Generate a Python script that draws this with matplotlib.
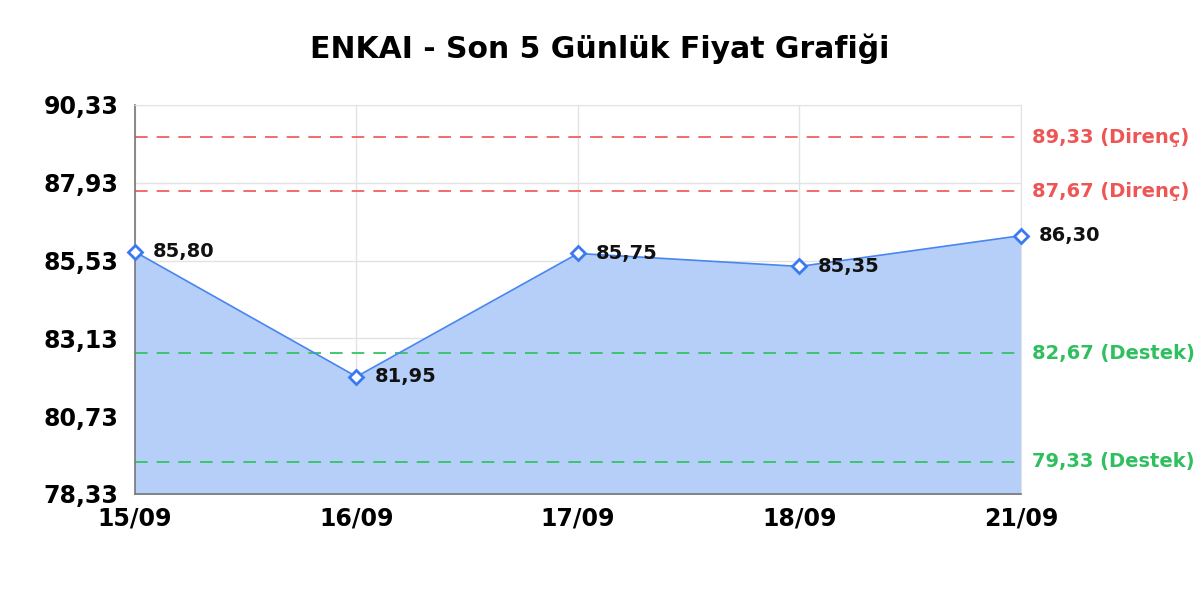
import matplotlib
matplotlib.use("Agg")
import matplotlib.pyplot as plt
import matplotlib.transforms as mtransforms

# data
dates = ['15/09', '16/09', '17/09', '18/09', '21/09']
prices = [85.80, 81.95, 85.75, 85.35, 86.30]
resistance = [89.33, 87.67]
support = [82.67, 79.33]
y_ticks = [78.33, 80.73, 83.13, 85.53, 87.93, 90.33]

def tr(v):
    return f"{v:.2f}".replace('.', ',')

plt.rcParams['font.family'] = ['DejaVu Sans']

fig = plt.figure(figsize=(12, 6), dpi=100)
ax = fig.add_axes([0.1125, 0.1767, 0.7383, 0.6483])

x = list(range(len(dates)))
ax.fill_between(x, prices, y_ticks[0], color='#b6cff8', zorder=1)
ax.plot(x, prices, color='#4a86f0', lw=1.2, zorder=3)
ax.plot(x, prices, ls='none', marker='D', ms=7, mfc='white', mec='#3a7af0', mew=2,
        zorder=4, clip_on=False)

for xi, p in zip(x, prices):
    ax.annotate(tr(p), (xi, p), xytext=(13, 0), textcoords='offset points',
                va='center', ha='left', fontsize=14, fontweight='bold', color='#111111', zorder=5)

trans = mtransforms.blended_transform_factory(ax.transAxes, ax.transData)
for r in resistance:
    ax.axhline(r, color='#f06060', lw=1.3, ls=(0, (7, 5)), zorder=2)
    ax.text(1.012, r, tr(r) + ' (Direnç)', transform=trans, va='center', ha='left',
            fontsize=14, fontweight='bold', color='#ee5555')
for s in support:
    ax.axhline(s, color='#33c463', lw=1.3, ls=(0, (7, 5)), zorder=2)
    ax.text(1.012, s, tr(s) + ' (Destek)', transform=trans, va='center', ha='left',
            fontsize=14, fontweight='bold', color='#2fbf5f')

ax.set_xlim(0, len(dates) - 1)
ax.set_ylim(y_ticks[0], y_ticks[-1])
ax.set_xticks(x)
ax.set_xticklabels(dates, fontsize=17, fontweight='bold')
ax.set_yticks(y_ticks)
ax.set_yticklabels([tr(v) for v in y_ticks], fontsize=17, fontweight='bold')
ax.tick_params(axis='x', length=0, pad=9)
ax.tick_params(axis='y', length=0, pad=12)
ax.grid(True, color='#e3e3e3', lw=1, zorder=0)
ax.set_axisbelow(True)
for side in ['top', 'right']:
    ax.spines[side].set_color('#e3e3e3')
for side in ['left', 'bottom']:
    ax.spines[side].set_color('#777777')
    ax.spines[side].set_linewidth(1.2)

fig.suptitle('ENKAI - Son 5 Günlük Fiyat Grafiği', fontsize=21.5, fontweight='bold', y=0.945)

fig.savefig('out.png', dpi=100, facecolor='white')
